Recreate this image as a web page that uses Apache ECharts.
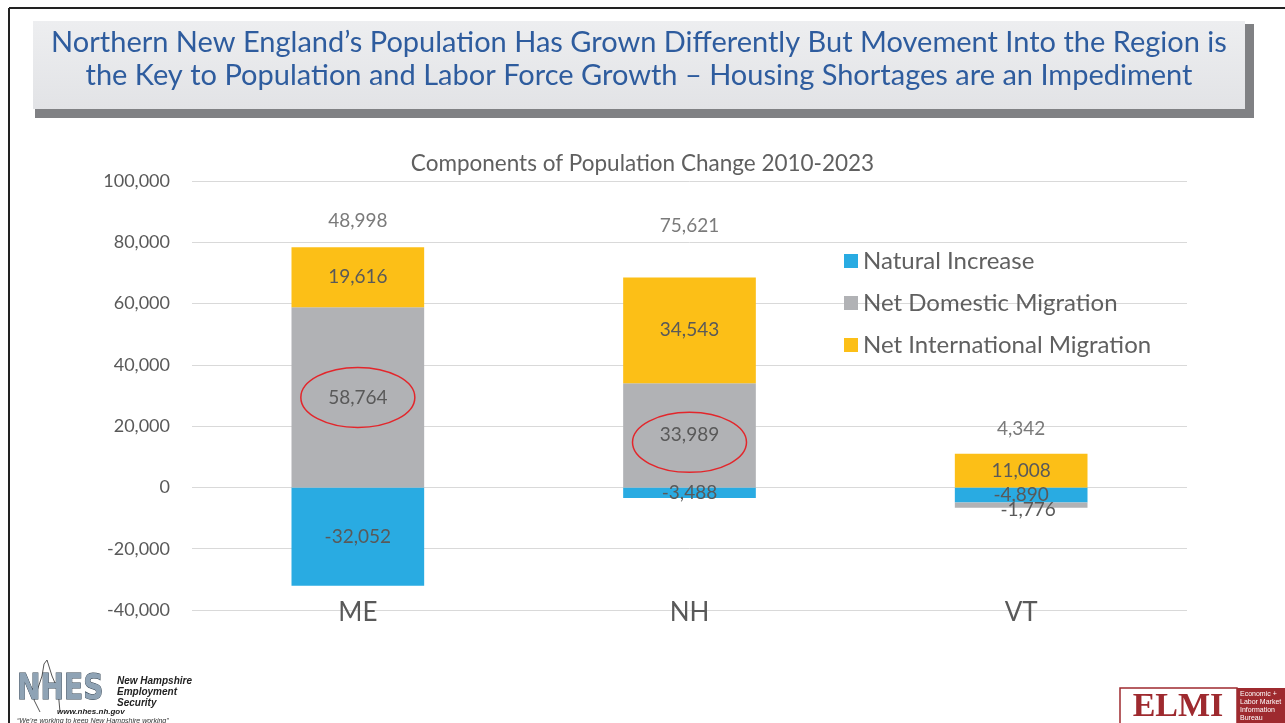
<!DOCTYPE html>
<html>
<head>
<meta charset="utf-8">
<script src="https://cdn.jsdelivr.net/npm/echarts@6/dist/echarts.min.js"></script>
<style>
  html, body { margin: 0; padding: 0; background: #fff; }
  #main { width: 1285px; height: 723px; }
</style>
</head>
<body>
<div id="main"></div>
<script>
// 数据
var states = ['ME', 'NH', 'VT'];
var naturalIncrease = [-32052, -3488, -4890];
var netDomestic = [58764, 33989, -1776];
var netInternational = [19616, 34543, 11008];
var totalLabels = [48998, 75621, 4342];
var yTicks = [-40000, -20000, 0, 20000, 40000, 60000, 80000, 100000];

var FONT = 'Lato, "Open Sans", sans-serif';
var TXT = '#595959';

function fmt(v) {
  return Number(v).toLocaleString('en-US');
}

// 正向堆叠顶部，用来放总数标签
var posTop = states.map(function (s, i) {
  var t = 0;
  [naturalIncrease[i], netDomestic[i], netInternational[i]].forEach(function (v) {
    if (v > 0) t += v;
  });
  return t;
});
var totalGap = [17, 42, 15];

var chart = echarts.init(document.getElementById('main'));

var barLabel = {
  show: true,
  position: 'inside',
  color: TXT,
  fontFamily: FONT,
  fontSize: 19,
  formatter: function (p) { return fmt(p.value); }
};

var option = {
  backgroundColor: '#fff',
  animation: false,
  title: {
    text: 'Components of Population Change 2010-2023',
    left: 'center',
    top: 147,
    textStyle: { color: '#606060', fontFamily: FONT, fontSize: 22.5, fontWeight: 'normal' }
  },
  legend: {
    data: ['Natural Increase', 'Net Domestic Migration', 'Net International Migration'],
    orient: 'vertical',
    left: 839,
    top: 243,
    itemWidth: 14,
    itemHeight: 14,
    itemGap: 16,
    icon: 'rect',
    textStyle: { color: '#606060', fontFamily: FONT, fontSize: 24, lineHeight: 26 }
  },
  grid: { left: 192, right: 98, top: 181, bottom: 113 },
  xAxis: {
    type: 'category',
    data: states,
    axisLine: { show: false, onZero: false },
    axisTick: { show: false },
    axisLabel: { color: TXT, fontFamily: FONT, fontSize: 26, margin: -10 }
  },
  yAxis: {
    type: 'value',
    min: yTicks[0],
    max: yTicks[yTicks.length - 1],
    interval: 20000,
    axisLine: { show: false },
    axisTick: { show: false },
    axisLabel: {
      color: TXT, fontFamily: FONT, fontSize: 18, margin: 22,
      formatter: function (v) { return fmt(v); }
    },
    splitLine: { lineStyle: { color: '#D9D9D9', width: 1 } }
  },
  series: [
    {
      name: 'Natural Increase',
      type: 'bar',
      stack: 'c',
      barWidth: '40%',
      itemStyle: { color: '#29ABE2' },
      label: barLabel,
      data: naturalIncrease
    },
    {
      name: 'Net Domestic Migration',
      type: 'bar',
      stack: 'c',
      itemStyle: { color: '#B1B2B5' },
      label: barLabel,
      data: netDomestic.map(function (v, i) {
        return i === 2 ? { value: v, label: { offset: [7, 5] } } : v;
      })
    },
    {
      name: 'Net International Migration',
      type: 'bar',
      stack: 'c',
      itemStyle: { color: '#FCBF17' },
      label: barLabel,
      data: netInternational
    },
    {
      name: 'Total',
      type: 'scatter',
      symbolSize: 0,
      silent: true,
      data: posTop.map(function (v, i) {
        return {
          value: [i, v],
          label: {
            show: true,
            position: 'top',
            distance: totalGap[i],
            color: TXT,
            fontFamily: FONT,
            fontSize: 19,
            formatter: fmt(totalLabels[i])
          }
        };
      })
    }
  ]
};

chart.setOption(option);

// 红色圈注和幻灯片装饰
function ellipseAt(i, v, dy) {
  var p = chart.convertToPixel({ gridIndex: 0 }, [i, v]);
  return {
    type: 'ellipse',
    shape: { cx: p[0], cy: p[1] + dy, rx: 57, ry: 30 },
    style: { fill: 'none', stroke: '#E3262B', lineWidth: 1.5 },
    z: 100
  };
}

chart.setOption({
  graphic: [
    // 外框
    { type: 'line', shape: { x1: 9, y1: 8, x2: 1285, y2: 8 }, style: { stroke: '#222', lineWidth: 2 } },
    { type: 'line', shape: { x1: 9, y1: 8, x2: 9, y2: 723 }, style: { stroke: '#222', lineWidth: 2 } },
    // 标题框
    { type: 'rect', shape: { x: 35, y: 24, width: 1219, height: 94 }, style: { fill: '#808184' } },
    {
      type: 'rect', shape: { x: 33, y: 21, width: 1212, height: 88 },
      style: {
        fill: new echarts.graphic.LinearGradient(0, 0, 0, 1, [
          { offset: 0, color: '#EDEEF0' }, { offset: 1, color: '#E2E3E6' }
        ])
      }
    },
    {
      type: 'text', x: 639, y: 43,
      style: {
        text: 'Northern New England\u2019s Population Has Grown Differently But Movement Into the Region is',
        fill: '#2E5C9E', font: '29px ' + FONT, align: 'center', verticalAlign: 'middle'
      }
    },
    {
      type: 'text', x: 639, y: 76,
      style: {
        text: 'the Key to Population and Labor Force Growth \u2013 Housing Shortages are an Impediment',
        fill: '#2E5C9E', font: '29px ' + FONT, align: 'center', verticalAlign: 'middle'
      }
    },
    ellipseAt(0, netDomestic[0] / 2, 0),
    ellipseAt(1, netDomestic[1] / 2, 7),
    // NHES 标志
    {
      type: 'polyline',
      shape: { points: [[40, 712], [34, 700], [38, 688], [42, 676], [44, 664], [47, 660], [52, 676], [58, 690], [60, 712]] },
      style: { stroke: '#555', lineWidth: 1, fill: 'none' }
    },
    {
      type: 'text', x: 17, y: 690, scaleX: 0.78,
      style: {
        text: 'NHES', font: 'bold 36px "DejaVu Sans", sans-serif', verticalAlign: 'middle',
        fill: '#8FA3B5', stroke: '#2F3E4C', lineWidth: 1
      }
    },
    { type: 'text', x: 117, y: 681, style: { text: 'New Hampshire', font: 'italic bold 10px "Liberation Sans", sans-serif', fill: '#222', verticalAlign: 'middle' } },
    { type: 'text', x: 117, y: 692, style: { text: 'Employment', font: 'italic bold 10px "Liberation Sans", sans-serif', fill: '#222', verticalAlign: 'middle' } },
    { type: 'text', x: 117, y: 703, style: { text: 'Security', font: 'italic bold 10px "Liberation Sans", sans-serif', fill: '#222', verticalAlign: 'middle' } },
    { type: 'text', x: 57, y: 712, style: { text: 'www.nhes.nh.gov', font: 'italic bold 8px "Liberation Sans", sans-serif', fill: '#222', verticalAlign: 'middle' } },
    { type: 'text', x: 17, y: 721, style: { text: '\u201CWe\u2019re working to keep New Hampshire working\u201D', font: 'italic 7px "Liberation Sans", sans-serif', fill: '#333', verticalAlign: 'middle' } },
    // ELMI 标志
    { type: 'rect', shape: { x: 1120, y: 688, width: 117, height: 36 }, style: { fill: '#fff', stroke: '#9E2A2F', lineWidth: 1.5 } },
    { type: 'text', x: 1178, y: 707, style: { text: 'ELMI', font: 'bold 34px "Liberation Serif", serif', fill: '#9E2A2F', align: 'center', verticalAlign: 'middle' } },
    { type: 'rect', shape: { x: 1237, y: 688, width: 48, height: 36 }, style: { fill: '#9E2A2F' } },
    {
      type: 'text', x: 1240, y: 690,
      style: { text: 'Economic +\nLabor Market\nInformation\nBureau', font: '7px "Liberation Sans", sans-serif', lineHeight: 8, fill: '#fff' }
    }
  ]
});
</script>
</body>
</html>
